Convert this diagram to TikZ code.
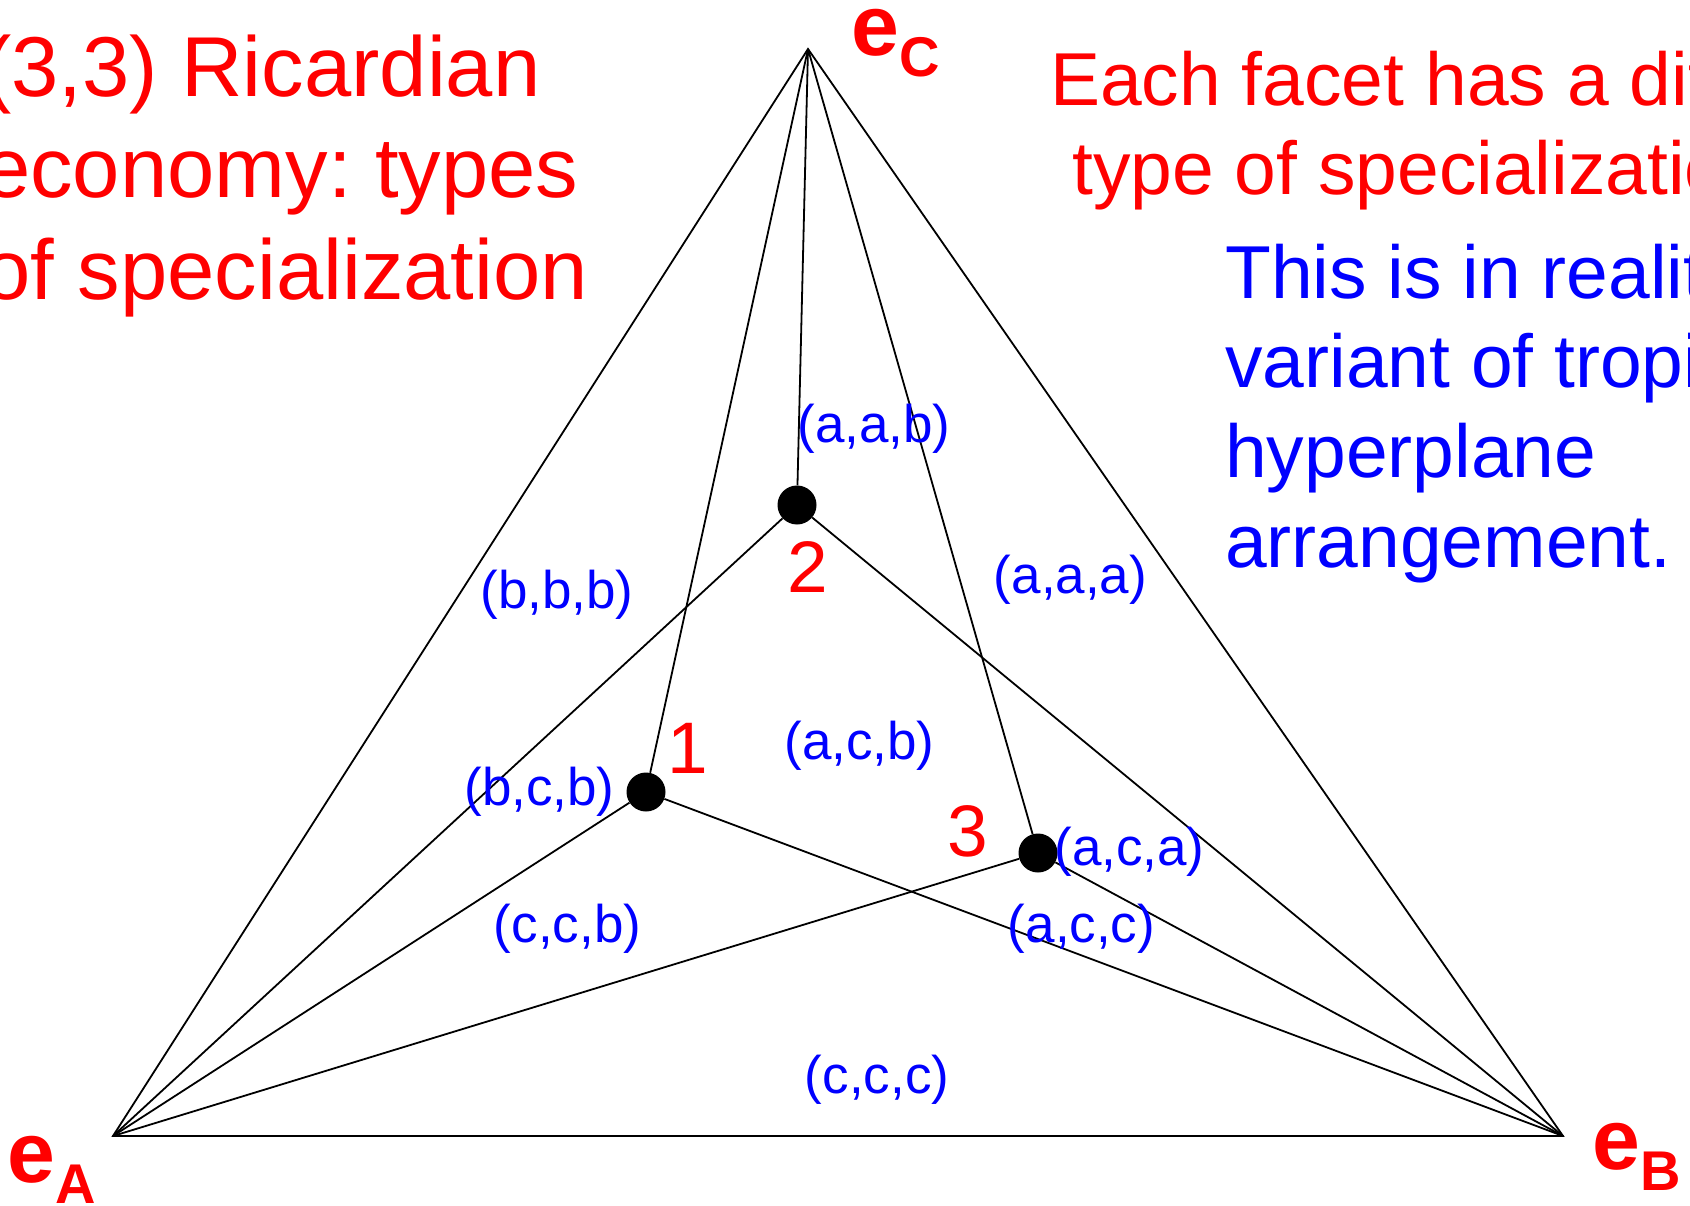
\documentclass[tikz,border=0pt]{standalone}
\usepackage{fontspec}
\setmainfont{Liberation Sans}
\frenchspacing
\newcommand\evlab[1]{\fontsize{86}{86}\selectfont\bfseries e\raisebox{-21pt}[0pt][0pt]{\fontsize{56}{56}\selectfont #1}}
\begin{document}
\begin{tikzpicture}[x=1pt,y=-1pt,
  edge/.style={line width=1.8pt, black},
  dot/.style={circle, fill=black, inner sep=0pt, minimum size=39pt},
  reg/.style={blue, font=\fontsize{53}{53}\selectfont, inner sep=0pt, anchor=base},
  num/.style={red, font=\fontsize{73}{73}\selectfont, inner sep=0pt, anchor=base},
  vlab/.style={red, inner sep=0pt, anchor=base west, text height=46pt, text depth=21pt},
  titleline/.style={red, font=\fontsize{85}{85}\selectfont, inner sep=0pt, anchor=base west},
  noteline/.style={font=\fontsize{75}{75}\selectfont, inner sep=0pt, anchor=base west}]
\useasboundingbox (0,0) rectangle (1690,1206);
\clip (0,0) rectangle (1690,1206);

% vertices
\coordinate (A) at (113,1136);
\coordinate (B) at (1563,1136);
\coordinate (C) at (808,49);

% points
\node[dot] (p1) at (646,792) {};
\node[dot] (p2) at (797,505) {};
\node[dot] (p3) at (1038,853) {};

% triangle
\draw[edge] (A) -- (B) -- (C) -- cycle;
% lines to points
\draw[edge] (C) -- (p1);
\draw[edge] (C) -- (p2);
\draw[edge] (C) -- (p3);
\draw[edge] (A) -- (p1);
\draw[edge] (A) -- (p2);
\draw[edge] (A) -- (p3);
\draw[edge] (B) -- (p1);
\draw[edge] (B) -- (p2);
\draw[edge] (B) -- (p3);

% vertex labels
\node[vlab] (lC) at (851,56) {\evlab{C}};
\node[vlab] (lA) at (7,1182) {\evlab{A}};
\node[vlab] (lB) at (1592,1169) {\evlab{B}};

% point numbers
\node[num] (n1) at (688,773) {1};
\node[num] (n2) at (808,592) {2};
\node[num] (n3) at (968,856) {3};

% region labels
\node[reg] (r1) at (874,442) {(a,a,b)};
\node[reg] (r2) at (557,608) {(b,b,b)};
\node[reg] (r3) at (1070.5,593) {(a,a,a)};
\node[reg] (r4) at (859.5,759) {(a,c,b)};
\node[reg] (r5) at (539.5,805) {(b,c,b)};
\node[reg] (r6) at (1129.5,865) {(a,c,a)};
\node[reg] (r7) at (567.5,942) {(c,c,b)};
\node[reg] (r8) at (1081.5,942) {(a,c,c)};
\node[reg] (r9) at (877,1093) {(c,c,c)};

% title
\node[titleline] (t1) at (-17,97) {(3,3) Ricardian};
\node[titleline] (t2) at (-17,198) {economy: types};
\node[titleline] (t3) at (-17,300) {of specialization};

% red note
\node[noteline, red] (f1) at (1050,106) {Each facet has a different};
\node[noteline, red] (f2) at (1072,195) {type of specialization.};

% blue note
\node[noteline, blue] (b1) at (1225,298.5) {This is in reality a};
\node[noteline, blue] (b2) at (1225,388) {variant of tropical};
\node[noteline, blue] (b3) at (1225,477.5) {hyperplane};
\node[noteline, blue] (b4) at (1225,567) {arrangement.};
\end{tikzpicture}
\end{document}
